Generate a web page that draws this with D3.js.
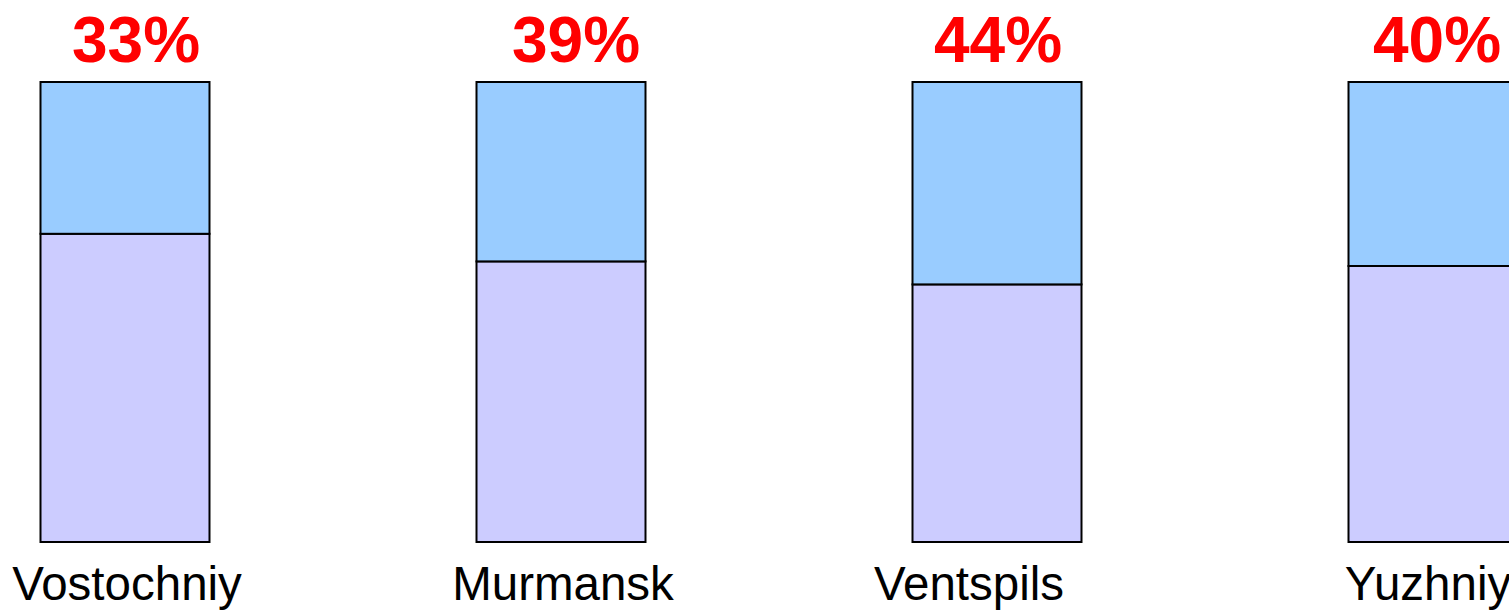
<!DOCTYPE html>
<html>
<head>
<meta charset="utf-8">
<script src="https://cdn.jsdelivr.net/npm/d3@7"></script>
<style>
  body { margin: 0; background: #fff; }
  svg { display: block; font-family: "Liberation Sans", Arial, sans-serif; }
</style>
</head>
<body>
<svg id="chart"></svg>
<script>
// ports and the share shown on top of each bar
const ports = ['Vostochniy', 'Murmansk', 'Ventspils', 'Yuzhniy'];
const topShare = [0.33, 0.39, 0.44, 0.40];
const pctLabels = ['33%', '39%', '44%', '40%'];

// small hand nudges, the labels in the original are not quite centred
const pctNudge = [11, 15, 1, 4];
const nameNudge = [2, 2, -28, -5];

const config = { w: 1509, h: 611, top: 82, bottom: 542 };

function createChart({w, h, top, bottom}) {
  const svg = d3.select('#chart')
    .attr('width', w)
    .attr('height', h);

  const x = d3.scaleBand()
    .domain(ports)
    .range([40.5, 1517.5])
    .paddingInner(0.6124)
    .paddingOuter(0);

  const y = d3.scaleLinear()
    .domain([0, 1])
    .range([bottom, top]);

  const rows = ports.map((p, i) => ({port: p, share: topShare[i], label: pctLabels[i], i}));

  const bars = svg.selectAll('g.bar')
    .data(rows)
    .join('g')
    .attr('class', 'bar')
    .attr('transform', d => `translate(${x(d.port)},0)`);

  // lower part
  bars.append('rect')
    .attr('y', d => y(1 - d.share))
    .attr('width', x.bandwidth())
    .attr('height', d => y(0) - y(1 - d.share))
    .style('fill', '#ccccff')
    .style('stroke', '#000')
    .style('stroke-width', 2);

  // upper part
  bars.append('rect')
    .attr('y', y(1))
    .attr('width', x.bandwidth())
    .attr('height', d => y(1 - d.share) - y(1))
    .style('fill', '#99ccff')
    .style('stroke', '#000')
    .style('stroke-width', 2);

  bars.append('text')
    .attr('x', d => x.bandwidth() / 2 + pctNudge[d.i])
    .attr('y', 62)
    .attr('text-anchor', 'middle')
    .style('font-size', '64px')
    .style('font-weight', 'bold')
    .style('fill', '#ff0000')
    .text(d => d.label);

  bars.append('text')
    .attr('x', d => x.bandwidth() / 2 + nameNudge[d.i])
    .attr('y', 600)
    .attr('text-anchor', 'middle')
    .style('font-size', '47.5px')
    .style('fill', '#000')
    .text(d => d.port);
}

createChart(config);
</script>
</body>
</html>
